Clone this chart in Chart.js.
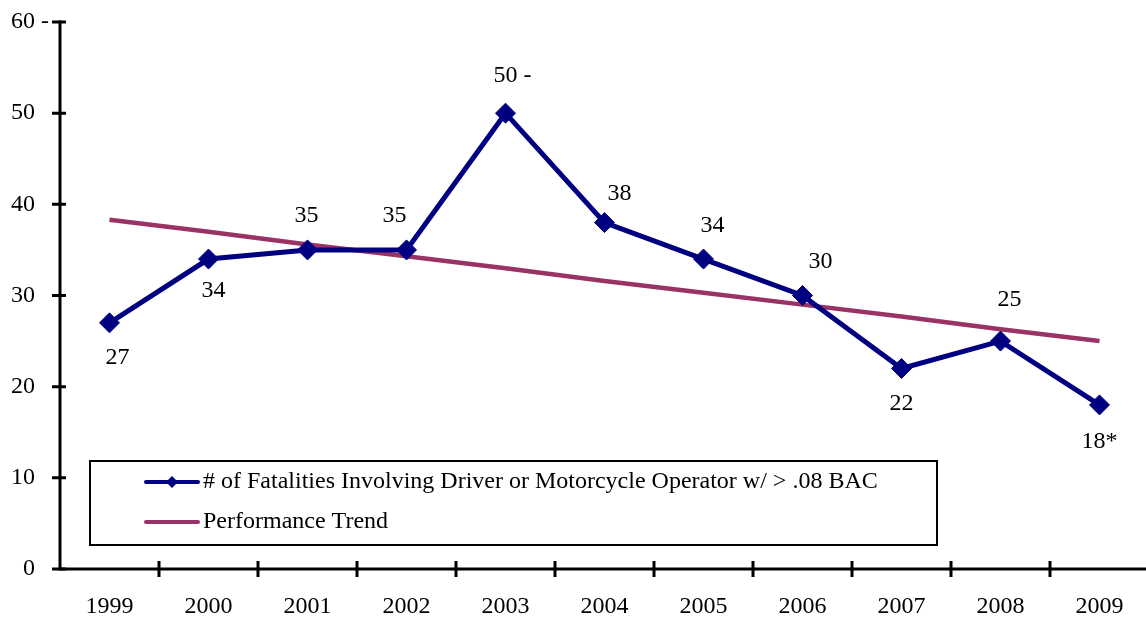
<!DOCTYPE html>
<html>
<head>
<meta charset="utf-8">
<script src="https://cdn.jsdelivr.net/npm/chart.js@4.4.0/dist/chart.umd.min.js"></script>
<style>
  html, body { margin: 0; padding: 0; background: #fff; overflow: hidden; }
  #wrap { width: 1146px; height: 619px; position: relative; overflow: hidden; }
  #c { display: block; }
</style>
</head>
<body>
<div id="wrap"><canvas id="c" width="1149" height="619"></canvas></div>
<script>
const years = ['1999','2000','2001','2002','2003','2004','2005','2006','2007','2008','2009'];
const fatalities = [27, 34, 35, 35, 50, 38, 34, 30, 22, 25, 18];
const trend = [38.3, 37.0, 35.6, 34.3, 33.0, 31.6, 30.3, 29.0, 27.7, 26.3, 25.0];
const pointLabels = ['27', '34', '35', '35', '50 -', '38', '34', '30', '22', '25', '18*'];
const yTickLabels = ['0', '10', '20', '30', '40', '50', '60 -'];
const seriesNames = ['# of Fatalities Involving Driver or Motorcycle Operator w/ > .08 BAC', 'Performance Trend'];

const FONT = '24px "Liberation Serif", "Times New Roman", serif';
const NAVY = '#000080';
const PLUM = '#993366';
// label offsets relative to point (dx, dy) for the data labels
const labelOffsets = [[8,35],[5,32],[-1,-34],[-12,-34],[0,-37],[15,-29],[9,-33],[18,-34],[0,35],[9,-41],[0,37]];

const customDraw = {
  id: 'customDraw',
  afterDraw(chart) {
    const ctx = chart.ctx;
    const x = chart.scales.x, y = chart.scales.y;
    const area = chart.chartArea;
    ctx.save();
    ctx.strokeStyle = '#000';
    ctx.lineWidth = 3;
    ctx.lineCap = 'butt';
    // axes
    ctx.beginPath();
    ctx.moveTo(area.left, y.getPixelForValue(60) - 1.5);
    ctx.lineTo(area.left, area.bottom + 1.5);
    ctx.moveTo(area.left - 1.5, area.bottom);
    ctx.lineTo(area.right, area.bottom);
    ctx.stroke();
    // y ticks
    ctx.beginPath();
    for (let v = 0; v <= 60; v += 10) {
      const py = y.getPixelForValue(v);
      ctx.moveTo(area.left - 8, py);
      ctx.lineTo(area.left + 6, py);
    }
    // x ticks at category boundaries
    for (let i = 1; i < years.length; i++) {
      const px = (x.getPixelForValue(i - 1) + x.getPixelForValue(i)) / 2;
      ctx.moveTo(px, area.bottom - 8);
      ctx.lineTo(px, area.bottom + 8);
    }
    ctx.stroke();
    // y labels
    ctx.fillStyle = '#000';
    ctx.font = FONT;
    ctx.textBaseline = 'middle';
    ctx.textAlign = 'left';
    yTickLabels.forEach((t, i) => {
      const py = y.getPixelForValue(i * 10);
      const num = t.split(' ')[0];
      const w = ctx.measureText(num).width;
      ctx.fillText(t, 35 - w, py);
    });
    // x labels
    ctx.textAlign = 'center';
    years.forEach((t, i) => {
      ctx.fillText(t, x.getPixelForValue(i), area.bottom + 38);
    });
    // data labels
    const meta = chart.getDatasetMeta(0);
    pointLabels.forEach((t, i) => {
      const p = meta.data[i];
      const num = t.split(' ')[0];
      if (t.indexOf(' ') >= 0) {
        ctx.textAlign = 'left';
        const w = ctx.measureText(num).width;
        ctx.fillText(t, p.x + labelOffsets[i][0] - w / 2, p.y + labelOffsets[i][1]);
        ctx.textAlign = 'center';
      } else {
        ctx.fillText(t, p.x + labelOffsets[i][0], p.y + labelOffsets[i][1]);
      }
    });
    // legend box
    ctx.fillStyle = '#fff';
    ctx.fillRect(90, 461, 847, 84);
    ctx.lineWidth = 2;
    ctx.strokeStyle = '#000';
    ctx.strokeRect(90, 461, 847, 84);
    // legend items
    ctx.lineCap = 'round';
    ctx.lineWidth = 4;
    ctx.strokeStyle = NAVY;
    ctx.beginPath(); ctx.moveTo(146, 482); ctx.lineTo(198, 482); ctx.stroke();
    ctx.fillStyle = NAVY;
    ctx.beginPath();
    ctx.moveTo(172, 476); ctx.lineTo(178, 482); ctx.lineTo(172, 488); ctx.lineTo(166, 482); ctx.closePath(); ctx.fill();
    ctx.strokeStyle = PLUM;
    ctx.beginPath(); ctx.moveTo(146, 522); ctx.lineTo(198, 522); ctx.stroke();
    ctx.fillStyle = '#000';
    ctx.textAlign = 'left';
    ctx.fillText(seriesNames[0], 203, 482);
    ctx.fillText(seriesNames[1], 203, 522);
    ctx.restore();
  }
};

new Chart(document.getElementById('c'), {
  type: 'line',
  data: {
    labels: years,
    datasets: [
      {
        label: seriesNames[0],
        data: fatalities,
        borderColor: NAVY,
        backgroundColor: NAVY,
        borderWidth: 5,
        pointStyle: 'rectRot',
        pointRadius: 10,
        pointBorderWidth: 1,
        tension: 0,
        clip: false,
        order: 0
      },
      {
        label: seriesNames[1],
        data: trend,
        borderColor: PLUM,
        backgroundColor: PLUM,
        borderWidth: 4.5,
        pointRadius: 0,
        tension: 0,
        clip: false,
        order: 1
      }
    ]
  },
  options: {
    responsive: false,
    animation: false,
    events: [],
    layout: { autoPadding: false, padding: { top: 22, right: 0, left: 0, bottom: 0 } },
    plugins: { legend: { display: false }, tooltip: { enabled: false } },
    scales: {
      x: {
        offset: true,
        grid: { display: false },
        border: { display: false },
        ticks: { display: false },
        afterFit(s) { s.height = 50; }
      },
      y: {
        min: 0, max: 60,
        grid: { display: false },
        border: { display: false },
        ticks: { display: false, stepSize: 10 },
        afterFit(s) { s.width = 60; }
      }
    }
  },
  plugins: [customDraw]
});
</script>
</body>
</html>
